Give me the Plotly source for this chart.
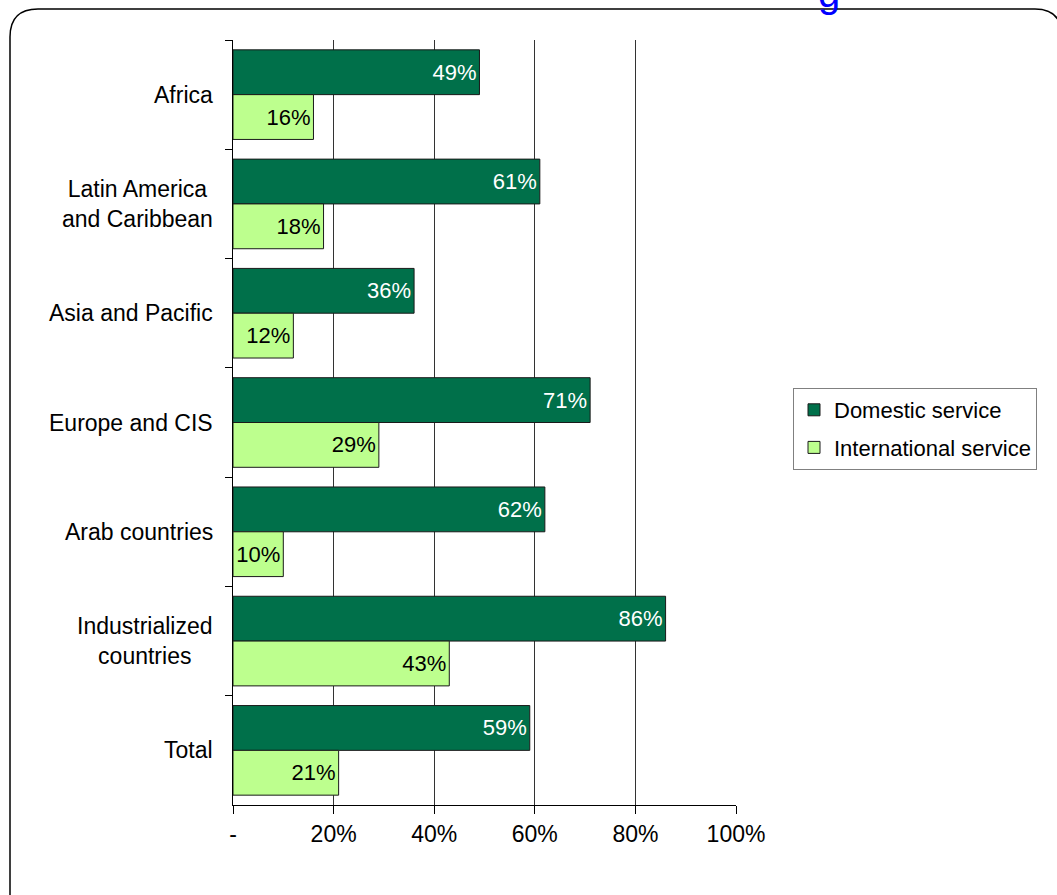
import plotly.graph_objects as go

categories = ["Africa", "Latin America and Caribbean", "Asia and Pacific", "Europe and CIS",
              "Arab countries", "Industrialized countries", "Total"]
category_labels = ["Africa", "Latin America<br>and Caribbean", "Asia and Pacific", "Europe and CIS",
                   "Arab countries", "Industrialized<br>countries", "Total"]
domestic = [49, 61, 36, 71, 62, 86, 59]
international = [16, 18, 12, 29, 10, 43, 21]
tick_vals = [0, 20, 40, 60, 80, 100]
tick_text = ["-", "20%", "40%", "60%", "80%", "100%"]

W, H = 1057, 895
L, R, T, B = 233, 736, 40, 805
FONT = "Liberation Sans, Arial, sans-serif"
FS = 23

def px(x):
    return (x - L) / (R - L)

def py(y):
    return (B - y) / (B - T)

fig = go.Figure()
fig.add_trace(go.Bar(
    y=categories, x=domestic, orientation="h", name="Domestic service",
    legendgroup="d",
    marker=dict(color="#00704A", line=dict(color="#1a1a1a", width=1)),
    text=[f"{v}%" for v in domestic], textposition="inside", insidetextanchor="end",
    textangle=0, constraintext="none",
    textfont=dict(color="white", size=22, family=FONT),
))
fig.add_trace(go.Bar(
    y=categories, x=international, orientation="h", name="International service",
    legendgroup="i",
    marker=dict(color="#BDFF8E", line=dict(color="#1a1a1a", width=1)),
    text=[f"{v}%" for v in international], textposition="inside", insidetextanchor="end",
    textangle=0, constraintext="none",
    textfont=dict(color="black", size=22, family=FONT),
))

for cat, lab in zip(categories, category_labels):
    fig.add_annotation(text=lab, x=px(215), y=cat, xref="paper", yref="y",
                       xanchor="right", yanchor="middle", align="center",
                       showarrow=False, font=dict(size=FS, family=FONT, color="black"))

# rounded frame
r = 28
path = (f"M {px(10)},{py(2000)} L {px(10)},{py(9 + r)} "
        f"Q {px(10)},{py(9)} {px(10 + r)},{py(9)} "
        f"L {px(1035)},{py(9)} Q {px(1062)},{py(9)} {px(1062)},{py(9 + r)} "
        f"L {px(1062)},{py(2000)}")
fig.add_shape(type="path", path=path, xref="paper", yref="paper",
              line=dict(color="black", width=1.5), layer="below")

fig.add_annotation(text="g", x=px(829), y=py(17), xref="paper", yref="paper",
                   xanchor="center", yanchor="bottom", showarrow=False,
                   font=dict(color="#0000FF", size=40, family=FONT))

fig.update_layout(
    width=W, height=H,
    margin=dict(l=L, r=W - R, t=T, b=H - B, pad=0),
    paper_bgcolor="white", plot_bgcolor="white",
    barmode="group", bargap=0.18, bargroupgap=0,
    font=dict(family=FONT, size=FS, color="black"),
    showlegend=True,
    legend=dict(x=px(793), y=py(388), xanchor="left", yanchor="top",
                bordercolor="#808080", borderwidth=1, bgcolor="white",
                font=dict(size=22, family=FONT), tracegroupgap=6,
                itemwidth=30),
    xaxis=dict(range=[0, 100], tickvals=tick_vals, ticktext=tick_text,
               showgrid=True, gridcolor="#333333", gridwidth=1,
               showline=True, linecolor="black", linewidth=1,
               ticks="outside", ticklen=8, tickcolor="black",
               zeroline=False, tickfont=dict(size=FS, family=FONT)),
    yaxis=dict(autorange="reversed", showline=True, linecolor="black", linewidth=1,
               ticks="outside", ticklen=7, tickcolor="black", tickson="boundaries",
               showgrid=False, showticklabels=False),
)

fig.write_html("out.html", config={"displayModeBar": False},
               post_script="document.body.style.margin='0px';")
